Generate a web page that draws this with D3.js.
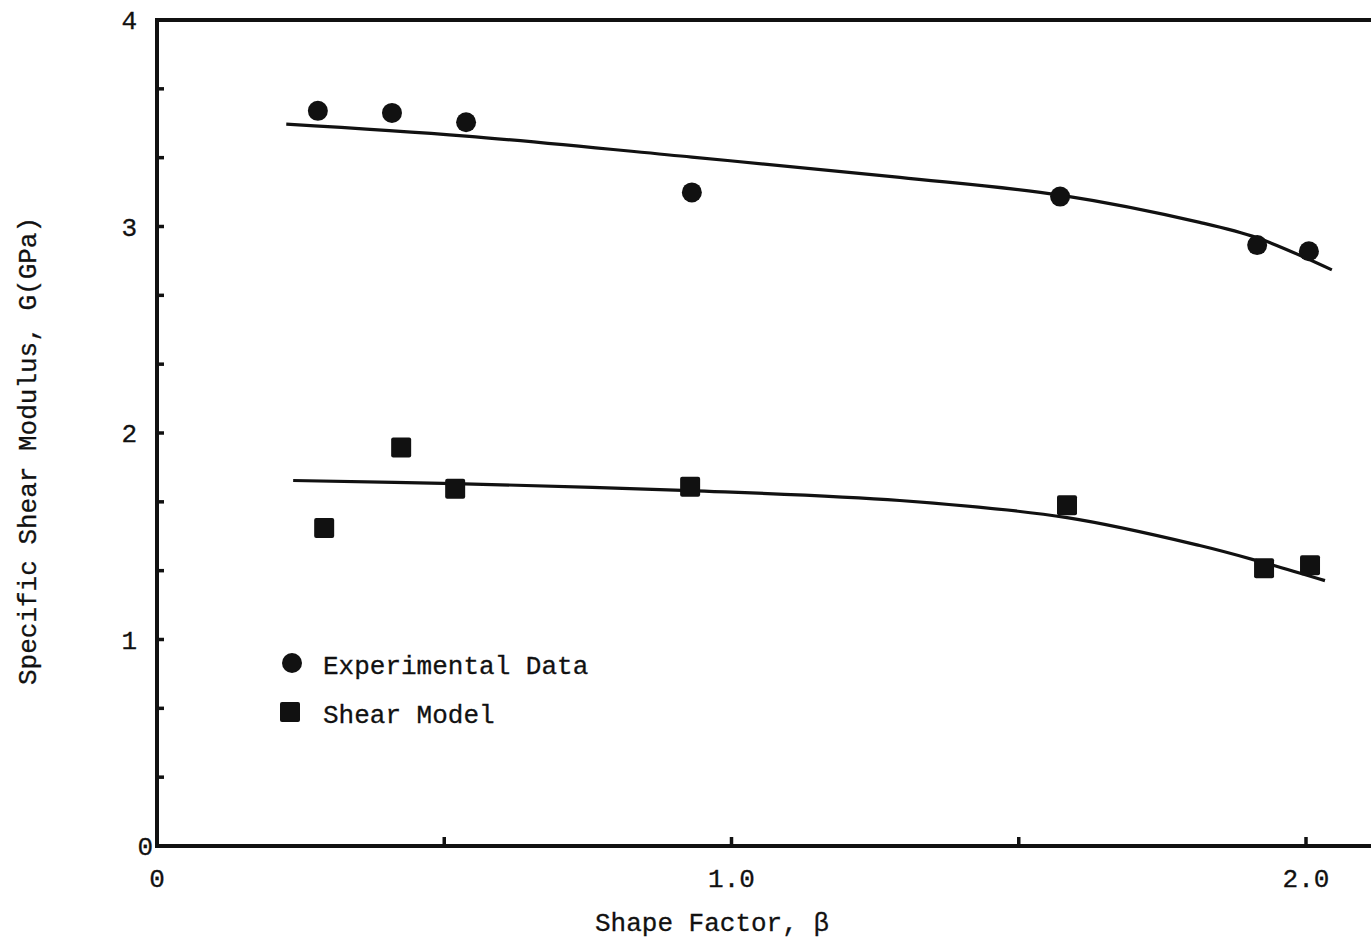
<!DOCTYPE html>
<html>
<head>
<meta charset="utf-8">
<script src="https://cdn.jsdelivr.net/npm/d3@7"></script>
<style>
  html, body { margin: 0; padding: 0; background: #fff; }
  svg { display: block; }
  text { font-family: "Liberation Mono", "DejaVu Sans Mono", monospace; fill: #111; stroke: #111; stroke-width: 0.3; }
</style>
</head>
<body>
<svg id="chart" width="1371" height="942"></svg>
<script>
// Measured specific shear modulus vs. shape factor
const expBeta = [0.280, 0.409, 0.538, 0.931, 1.572, 1.915, 2.005];
const expG    = [3.56, 3.55, 3.505, 3.165, 3.145, 2.91, 2.88];

// Shear model predictions
const modelBeta = [0.291, 0.425, 0.519, 0.928, 1.584, 1.927, 2.007];
const modelG    = [1.54, 1.93, 1.73, 1.74, 1.65, 1.345, 1.36];

// Smooth fitted curves drawn through each set
const expFitBeta = [0.225, 0.538, 0.931, 1.293, 1.572, 1.815, 1.915, 2.045];
const expFitG    = [3.496, 3.438, 3.336, 3.238, 3.152, 3.02, 2.945, 2.79];
const modelFitBeta = [0.237, 0.519, 0.928, 1.293, 1.584, 1.815, 1.927, 2.033];
const modelFitG    = [1.77, 1.755, 1.721, 1.673, 1.59, 1.455, 1.372, 1.285];

const xTickLabels = ["0", "1.0", "2.0"];
const xTickValues = [0, 1, 2];
const yTickLabels = ["0", "1", "2", "3", "4"];
const yTickValues = [0, 1, 2, 3, 4];
const xMinorTicks = [0.5, 1.0, 1.5, 2.0];
const yMinorTicks = d3.range(1, 12).map(i => i / 3);

const svg = d3.select("#chart");
const x = d3.scaleLinear().domain([0, 2]).range([157, 1306]);
const y = d3.scaleLinear().domain([0, 4]).range([846, 20]);
const xEnd = 1400;

// Frame: left, bottom and top edges
const frame = svg.append("g").attr("stroke", "#111").attr("stroke-width", 4).attr("fill", "none");
frame.append("line").attr("x1", x(0)).attr("x2", x(0)).attr("y1", y(4) - 2).attr("y2", y(0) + 2);
frame.append("line").attr("x1", x(0)).attr("x2", xEnd).attr("y1", y(0)).attr("y2", y(0));
frame.append("line").attr("x1", x(0)).attr("x2", xEnd).attr("y1", y(4)).attr("y2", y(4));

// Inward ticks
const ticks = svg.append("g").attr("stroke", "#111").attr("stroke-width", 3.5);
ticks.selectAll(".xt").data(xMinorTicks).join("line")
  .attr("x1", d => x(d)).attr("x2", d => x(d))
  .attr("y1", y(0)).attr("y2", y(0) - 9);
ticks.selectAll(".yt").data(yMinorTicks).join("line")
  .attr("x1", x(0)).attr("x2", x(0) + 7)
  .attr("y1", d => y(d)).attr("y2", d => y(d));

// Tick labels
svg.append("g").selectAll("text").data(xTickValues).join("text")
  .attr("x", d => x(d)).attr("y", y(0) + 41)
  .attr("text-anchor", "middle").attr("font-size", 26)
  .text((d, i) => xTickLabels[i]);
svg.append("g").selectAll("text").data(yTickValues).join("text")
  .attr("x", d => d === 0 ? x(0) - 4 : x(0) - 20).attr("y", d => y(d) + 9)
  .attr("text-anchor", "end").attr("font-size", 26)
  .text((d, i) => yTickLabels[i]);

// Axis titles
svg.append("text").attr("x", 712).attr("y", 931)
  .attr("text-anchor", "middle").attr("font-size", 26)
  .text("Shape Factor, β");
svg.append("text")
  .attr("transform", "translate(36,451) rotate(-90)")
  .attr("text-anchor", "middle").attr("font-size", 26)
  .text("Specific Shear Modulus, G(GPa)");

// Fitted curves
const line = d3.line().x(d => x(d[0])).y(d => y(d[1])).curve(d3.curveCatmullRom.alpha(0.5));
svg.append("path").datum(d3.zip(expFitBeta, expFitG))
  .attr("d", line).attr("fill", "none").attr("stroke", "#111").attr("stroke-width", 3.2);
svg.append("path").datum(d3.zip(modelFitBeta, modelFitG))
  .attr("d", line).attr("fill", "none").attr("stroke", "#111").attr("stroke-width", 3.2);

// Data markers
svg.append("g").selectAll("circle").data(d3.zip(expBeta, expG)).join("circle")
  .attr("cx", d => x(d[0])).attr("cy", d => y(d[1])).attr("r", 10).attr("fill", "#111");
svg.append("g").selectAll("rect").data(d3.zip(modelBeta, modelG)).join("rect")
  .attr("x", d => x(d[0]) - 10).attr("y", d => y(d[1]) - 10)
  .attr("width", 20).attr("height", 20).attr("rx", 2).attr("fill", "#111");

// Legend
const legend = svg.append("g");
legend.append("circle").attr("cx", 292).attr("cy", 663).attr("r", 10).attr("fill", "#111");
legend.append("text").attr("x", 323).attr("y", 674).attr("font-size", 26).text("Experimental Data");
legend.append("rect").attr("x", 280).attr("y", 702).attr("width", 20).attr("height", 20).attr("rx", 2).attr("fill", "#111");
legend.append("text").attr("x", 323).attr("y", 723).attr("font-size", 26).text("Shear Model");
</script>
</body>
</html>
